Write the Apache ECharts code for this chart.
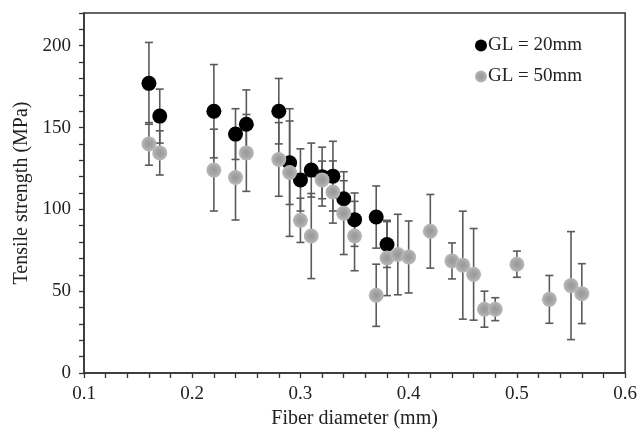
<!DOCTYPE html>
<html>
<head>
<meta charset="utf-8">
<script src="https://cdn.jsdelivr.net/npm/echarts@6/dist/echarts.min.js"></script>
<style>
html,body{margin:0;padding:0;background:#fff;}
#chart{width:640px;height:436px;}
</style>
</head>
<body>
<div id="chart"></div>
<script>
// GL = 20mm
const diam20 = [0.16,0.17,0.22,0.24,0.25,0.28,0.29,0.30,0.31,0.32,0.33,0.34,0.35,0.37,0.38];
const str20  = [177,157,160,146,152,160,128.5,118,124,120,120.3,106.5,93.7,95.3,78.5];
const err20  = [25,16.5,28.5,15.5,21,20,25.5,19,16.5,18,21.3,11,16.3,19,14];
// GL = 50mm
const diam50 = [0.16,0.17,0.22,0.24,0.25,0.28,0.29,0.30,0.31,0.32,0.33,0.34,0.35,0.37,0.38,0.39,0.40,0.42,0.44,0.45,0.46,0.47,0.48,0.50,0.53,0.55,0.56];
const str50  = [140,134.5,124,119.5,134.5,130.5,122.5,93.3,83.7,118,110.6,97.7,83.7,47.5,70.3,72.4,70.9,86.6,68.5,65.9,60.3,39,39,66.5,45,53.4,48.5];
const err50  = [13,13.5,25,26,23.5,22.5,39,13.5,26,11.5,19,25.3,21.2,19,23,24.6,22,22.5,11,33,28,11,7,8,14.6,33,18.3];

const xTickLabels = ['0.1','0.2','0.3','0.4','0.5','0.6'];
const yTickLabels = ['0','50','100','150','200'];

const pts20 = diam20.map((d,i)=>[d,str20[i]]);
const pts50 = diam50.map((d,i)=>[d,str50[i]]);
const bars = diam20.map((d,i)=>[d,str20[i]-err20[i],str20[i]+err20[i]])
  .concat(diam50.map((d,i)=>[d,str50[i]-err50[i],str50[i]+err50[i]]));

const font = 'Liberation Serif, Times New Roman, serif';
const textColor = '#222';

function renderBar(params, api){
  const x = api.value(0);
  const lo = api.coord([x, api.value(1)]);
  const hi = api.coord([x, api.value(2)]);
  const w = 4;
  const st = {stroke:'#5a5a5a', lineWidth:1.6};
  return {type:'group', children:[
    {type:'line', shape:{x1:lo[0],y1:lo[1],x2:hi[0],y2:hi[1]}, style:st},
    {type:'line', shape:{x1:lo[0]-w,y1:lo[1],x2:lo[0]+w,y2:lo[1]}, style:st},
    {type:'line', shape:{x1:hi[0]-w,y1:hi[1],x2:hi[0]+w,y2:hi[1]}, style:st}
  ]};
}

const grayFill = {type:'radial', x:0.5, y:0.5, r:0.5, colorStops:[
  {offset:0, color:'#989898'},{offset:0.45, color:'#a2a2a2'},{offset:1, color:'#b9b9b9'}]};

const chart = echarts.init(document.getElementById('chart'), null, {renderer:'canvas'});
chart.setOption({
  backgroundColor:'#fff',
  animation:false,
  grid:{left:84, right:14, top:13, bottom:63, show:true, borderColor:'#333', borderWidth:1.5, backgroundColor:'transparent'},
  legend:{
    orient:'vertical', left:470, top:31, itemGap:12, itemWidth:12, itemHeight:12,
    data:[{name:'GL = 20mm', icon:'circle'},{name:'GL = 50mm', icon:'circle'}],
    textStyle:{fontFamily:font, fontSize:19, color:textColor, padding:[0,0,0,-4]}
  },
  xAxis:{
    type:'value', min:0.1, max:0.6, interval:0.02,
    name:'Fiber diameter (mm)', nameLocation:'middle', nameGap:36,
    nameTextStyle:{fontFamily:font, fontSize:20, color:textColor},
    axisLine:{show:true, onZero:false, lineStyle:{color:'#333', width:1.5}},
    axisTick:{show:true, length:5, lineStyle:{color:'#333', width:1.3}},
    axisLabel:{fontFamily:font, fontSize:19, color:textColor, margin:12,
      formatter:function(v){const k=Math.round(v*100); if(k%10!==0) return ''; const s=(k/100).toFixed(1); return xTickLabels.indexOf(s)>=0?s:'';}},
    splitLine:{show:false}
  },
  yAxis:{
    type:'value', min:0, max:220, interval:10,
    name:'Tensile strength (MPa)', nameLocation:'middle', nameGap:52,
    nameTextStyle:{fontFamily:font, fontSize:20, color:textColor},
    axisLine:{show:true, onZero:false, lineStyle:{color:'#333', width:1.5}},
    axisTick:{show:true, length:5, lineStyle:{color:'#333', width:1.3}},
    axisLabel:{fontFamily:font, fontSize:19, color:textColor, margin:13,
      formatter:function(v){const s=String(Math.round(v)); return yTickLabels.indexOf(s)>=0?s:'';}},
    splitLine:{show:false}
  },
  series:[
    {type:'custom', name:'err', data:bars, renderItem:renderBar, z:1, silent:true,
      encode:{x:0, y:[1,2]}},
    {type:'scatter', name:'GL = 20mm', data:pts20, symbol:'circle', symbolSize:15, z:2,
      itemStyle:{color:'#000', opacity:1}},
    {type:'scatter', name:'GL = 50mm', data:pts50, symbol:'circle', symbolSize:15, z:3,
      itemStyle:{color:grayFill, opacity:1}}
  ]
});
</script>
</body>
</html>
